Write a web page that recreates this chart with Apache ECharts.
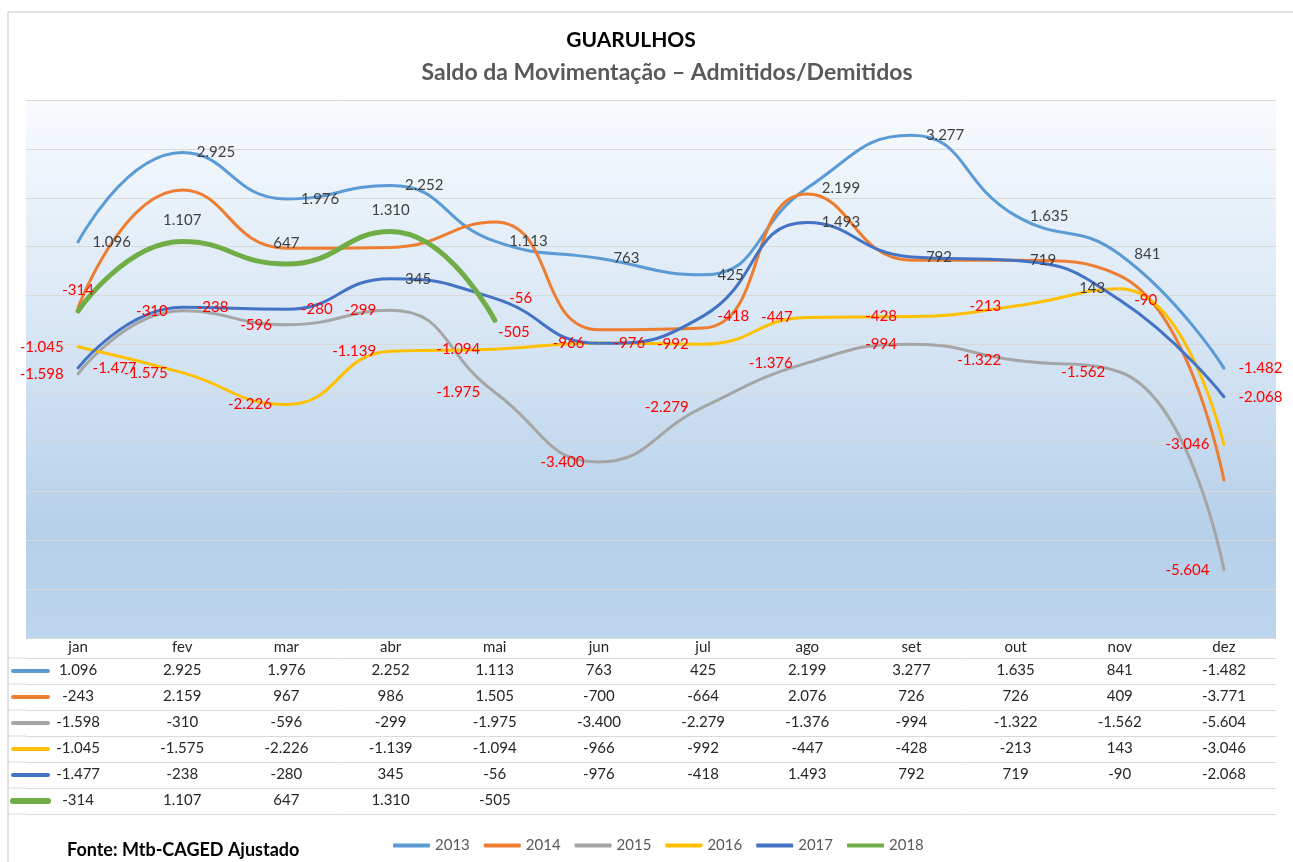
<!DOCTYPE html>
<html>
<head>
<meta charset="utf-8">
<script src="https://cdn.jsdelivr.net/npm/echarts@6/dist/echarts.min.js"></script>
<style>
html, body { margin: 0; padding: 0; background: #fff; }
#main { width: 1293px; height: 862px; }
</style>
</head>
<body>
<div id="main"></div>
<script>
var months = ['jan', 'fev', 'mar', 'abr', 'mai', 'jun', 'jul', 'ago', 'set', 'out', 'nov', 'dez'];
var years = ['2013', '2014', '2015', '2016', '2017', '2018'];
var s2013 = [1096, 2925, 1976, 2252, 1113, 763, 425, 2199, 3277, 1635, 841, -1482];
var s2014 = [-243, 2159, 967, 986, 1505, -700, -664, 2076, 726, 726, 409, -3771];
var s2015 = [-1598, -310, -596, -299, -1975, -3400, -2279, -1376, -994, -1322, -1562, -5604];
var s2016 = [-1045, -1575, -2226, -1139, -1094, -966, -992, -447, -428, -213, 143, -3046];
var s2017 = [-1477, -238, -280, 345, -56, -976, -418, 1493, 792, 719, -90, -2068];
var s2018 = [-314, 1107, 647, 1310, -505];

var rows = [s2013, s2014, s2015, s2016, s2017, s2018];
var colors = ['#5B9BD5', '#ED7D31', '#A5A5A5', '#FFC000', '#4472C4', '#70AD47'];
var widths = [3, 3, 3, 3, 3, 5];
var labelPos = ['right', null, 'left', 'left', 'right', 'top'];

var FONT = 'Lato';
var gridColor = '#d9d9d9';
var gridLeft = 26, gridRight = 17, gridTop = 100, gridBottom = 224;
var headerH = 20, rowH = 26;

// numero no formato brasileiro: 1.096 / -3.400
function fmt(v) {
    var s = Math.abs(v).toString().replace(/\B(?=(\d{3})+(?!\d))/g, '.');
    return (v < 0 ? '-' : '') + s;
}

var myChart = echarts.init(document.getElementById('main'));

// eixos do gráfico + eixos extras que servem de tabela de dados
var xAxes = [{
    type: 'category',
    data: months,
    boundaryGap: true,
    axisLine: { lineStyle: { color: gridColor } },
    axisTick: { length: headerH, lineStyle: { color: gridColor } },
    axisLabel: { interval: 0, margin: 1, fontSize: 15, lineHeight: 16, color: '#262626', fontFamily: FONT }
}];
rows.forEach(function (vals, k) {
    xAxes.push({
        type: 'category',
        data: months,
        position: 'bottom',
        offset: headerH + rowH * k,
        axisLine: { lineStyle: { color: gridColor } },
        axisTick: { length: rowH, lineStyle: { color: gridColor } },
        axisLabel: {
            interval: 0, margin: 4, fontSize: 15, lineHeight: 16, color: '#262626', fontFamily: FONT,
            formatter: function (v, i) { return vals[i] == null ? '' : fmt(vals[i]); }
        }
    });
});
xAxes.push({
    type: 'category',
    data: months,
    position: 'bottom',
    offset: headerH + rowH * rows.length,
    axisLine: { lineStyle: { color: gridColor } },
    axisTick: { show: false },
    axisLabel: { show: false }
});

var series = rows.map(function (vals, k) {
    var data = vals.map(function (v) { return v; });
    if (k === 5) {
        data[4] = { value: vals[4], label: { position: 'bottom', distance: 4, offset: [19, 0] } };
    }
    return {
        name: years[k],
        type: 'line',
        data: data,
        smooth: 0.5,
        showSymbol: true,
        symbol: 'circle',
        symbolSize: 1,
        itemStyle: { color: colors[k] },
        lineStyle: { width: widths[k], color: colors[k], cap: 'round' },
        emphasis: { disabled: true },
        label: {
            show: labelPos[k] != null,
            position: labelPos[k] || 'top',
            distance: k === 5 ? 13 : 14,
            fontFamily: FONT,
            formatter: function (p) {
                return '{' + (p.value < 0 ? 'n' : 'p') + '|' + fmt(p.value) + '}';
            },
            rich: {
                n: { color: '#FF0000', fontSize: 15, fontFamily: FONT },
                p: { color: '#404040', fontSize: 15, fontFamily: FONT }
            }
        }
    };
});

// linhas da tabela à esquerda + chaves de cor
var graphics = [{
    type: 'rect',
    shape: { x: 8, y: 12, width: 1300, height: 900 },
    style: { fill: null, stroke: gridColor, lineWidth: 1.5 },
    silent: true
}];
var tableTop = 862 - gridBottom;
for (var k = 0; k <= rows.length; k++) {
    var y = tableTop + headerH + rowH * k;
    graphics.push({
        type: 'line',
        shape: { x1: 8, y1: y, x2: gridLeft, y2: y },
        style: { stroke: gridColor, lineWidth: 1 },
        silent: true
    });
    if (k < rows.length) {
        graphics.push({
            type: 'line',
            shape: { x1: 13, y1: y + rowH / 2, x2: 48, y2: y + rowH / 2 },
            style: { stroke: colors[k], lineWidth: widths[k] + 1, lineCap: 'round' },
            silent: true
        });
    }
}

var option = {
    animation: false,
    title: [{
        text: 'GUARULHOS',
        left: 631,
        textAlign: 'center',
        top: 30,
        padding: 0,
        textStyle: { fontFamily: FONT, fontSize: 21, fontWeight: 'bold', color: '#000' }
    }, {
        text: 'Saldo da Movimentação – Admitidos/Demitidos',
        left: 667,
        textAlign: 'center',
        top: 61,
        padding: 0,
        textStyle: { fontFamily: FONT, fontSize: 23, fontWeight: 'bold', color: '#595959' }
    }, {
        text: 'Fonte: Mtb-CAGED Ajustado',
        left: 67,
        top: 841,
        padding: 0,
        textStyle: { fontFamily: FONT, fontSize: 18, fontWeight: 'bold', color: '#000' }
    }],
    legend: {
        data: years,
        left: 388,
        top: 833,
        icon: 'roundRect',
        itemWidth: 37,
        itemHeight: 4,
        itemGap: 14,
        textStyle: { fontFamily: FONT, fontSize: 15, color: '#595959' }
    },
    grid: {
        left: gridLeft,
        right: gridRight,
        top: gridTop,
        bottom: gridBottom,
        show: true,
        borderWidth: 0,
        backgroundColor: new echarts.graphic.LinearGradient(0, 0, 0, 1, [
            { offset: 0, color: '#f8fbfe' },
            { offset: 0.45, color: '#d6e5f4' },
            { offset: 0.8, color: '#b6d0ea' },
            { offset: 1, color: '#bdd5ed' }
        ])
    },
    xAxis: xAxes,
    yAxis: {
        type: 'value',
        min: -7000,
        max: 4000,
        interval: 1000,
        axisLine: { show: false },
        axisTick: { show: false },
        axisLabel: { show: false },
        splitLine: { lineStyle: { color: gridColor, width: 1 } }
    },
    graphic: graphics,
    series: series
};

myChart.setOption(option);
</script>
</body>
</html>
